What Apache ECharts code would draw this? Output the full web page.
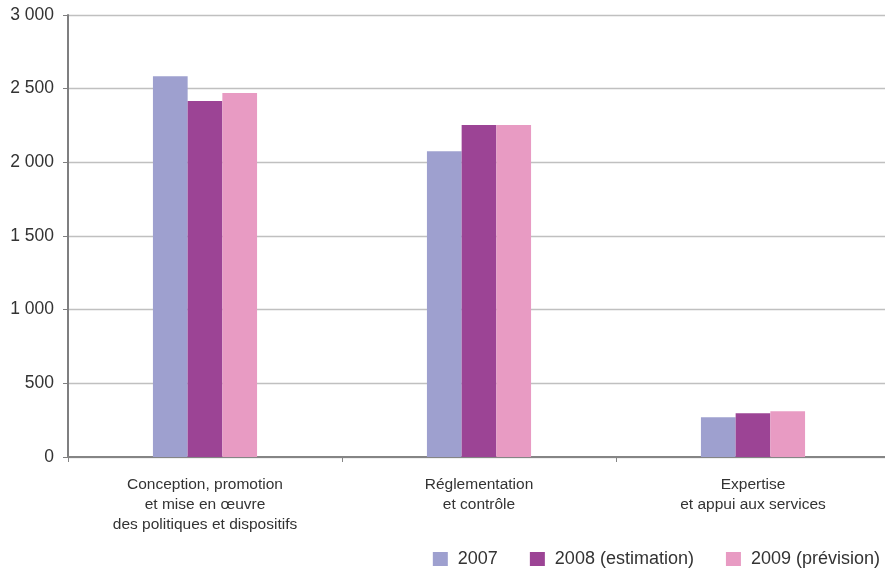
<!DOCTYPE html>
<html>
<head>
<meta charset="utf-8">
<script src="https://cdn.jsdelivr.net/npm/echarts@6/dist/echarts.min.js"></script>
<style>
  html, body { margin: 0; padding: 0; background: #fff; }
  #chart { width: 885px; height: 570px; }
</style>
</head>
<body>
<div id="chart"></div>
<script>
// Effectifs par action, 2007-2009
const categories = [
  'Conception, promotion\net mise en œuvre\ndes politiques et dispositifs',
  'Réglementation\net contrôle',
  'Expertise\net appui aux services'
];
const seriesNames = ['2007', '2008 (estimation)', '2009 (prévision)'];
const values2007 = [2585, 2076, 270];
const values2008 = [2416, 2253, 297];
const values2009 = [2470, 2253, 310];
const yTicks = { min: 0, max: 3000, interval: 500 };

const colors = ['#9ea0cf', '#9c4495', '#e89bc3'];
const dataSets = [values2007, values2008, values2009];

const fmt = v => String(v).replace(/\B(?=(\d{3})+(?!\d))/g, ' ');
const font = 'Liberation Sans, Arial, sans-serif';

const chart = echarts.init(document.getElementById('chart'), null, { renderer: 'canvas' });
chart.setOption({
  animation: false,
  textStyle: { fontFamily: font },
  // plot area runs slightly past the right edge of the canvas
  grid: {
    left: 68, top: 15, width: 822, height: 442,
    containLabel: false,
    outerBoundsMode: 'none'
  },
  legend: {
    right: 0,
    top: 545,
    icon: 'rect',
    itemWidth: 15,
    itemHeight: 14,
    itemGap: 32,
    textStyle: { fontSize: 18, color: '#333', fontFamily: font, padding: [0, 0, 0, 5] },
    data: seriesNames
  },
  xAxis: {
    type: 'category',
    data: categories,
    axisLine: { lineStyle: { color: '#858585', width: 2 } },
    axisTick: { show: true, length: 5, lineStyle: { color: '#858585' } },
    axisLabel: {
      fontSize: 15.5,
      lineHeight: 20,
      color: '#333',
      margin: 18,
      interval: 0
    }
  },
  yAxis: {
    type: 'value',
    min: yTicks.min,
    max: yTicks.max,
    interval: yTicks.interval,
    axisLine: { show: true, lineStyle: { color: '#7f7f80', width: 2 } },
    axisTick: { show: true, length: 5, lineStyle: { color: '#7f7f80' } },
    splitLine: { lineStyle: { color: '#c0c0c0', width: 1.3 } },
    axisLabel: {
      fontSize: 17.5,
      color: '#333',
      margin: 14,
      formatter: v => fmt(v)
    }
  },
  series: seriesNames.map((name, i) => ({
    name,
    type: 'bar',
    data: dataSets[i],
    barGap: '0%',
    barCategoryGap: '62%',
    itemStyle: { color: colors[i] }
  }))
});
</script>
</body>
</html>
